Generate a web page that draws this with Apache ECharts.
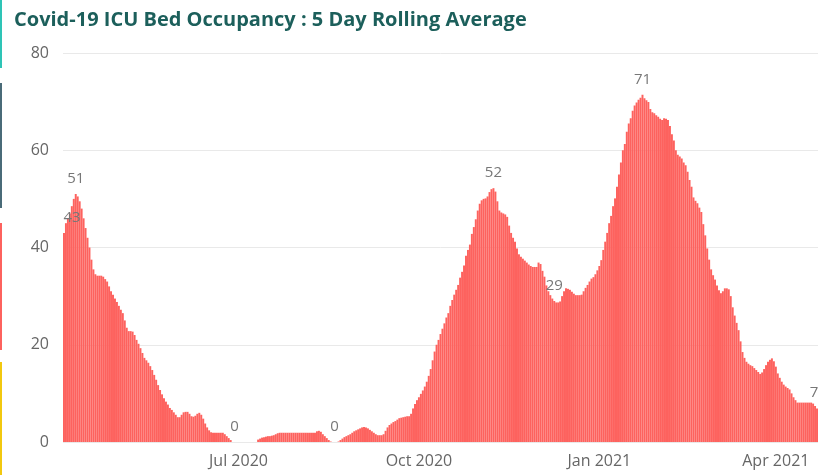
<!DOCTYPE html>
<html>
<head>
<meta charset="utf-8">
<script src="https://cdn.jsdelivr.net/npm/echarts@6/dist/echarts.min.js"></script>
<style>
  html, body { margin: 0; padding: 0; background: #fff; }
  #chart { width: 837px; height: 475px; }
</style>
</head>
<body>
<div id="chart"></div>
<script>
// Daily ICU bed occupancy, 5-day rolling average, starting 3 Apr 2020
const startDate = '2020-04-03';

const wave1 = [
  43, 45, 46, 47, 48.5, 50, 51, 50.5, 49.5, 48,
  46, 44, 42, 40, 37.5, 35.5, 34.5, 34.2, 34.2, 34.2,
  34, 33.5, 33, 32, 31, 30.3, 29.5, 28.8, 28, 27.2,
  26.5, 25, 23.5, 22.8, 22.8, 22.7, 22, 21, 20.2, 19.3,
  18.3, 17.3, 16.8, 16.3, 15.6, 14.8, 13.8, 12.8, 11.7, 10.7,
  9.8, 9, 8.3, 7.7, 7, 6.6, 6.1, 5.6, 5.1, 5.1,
  5.6, 6.1, 6.2, 6.2, 5.8, 5.3, 5.2, 5.4, 5.8, 6,
  5.6, 4.8, 3.8, 3, 2.4, 2, 1.9, 1.9, 1.9, 1.9,
  1.9, 1.9, 1.6, 1.2, 0.8, 0.4
];

const summer = [
  0, 0, 0, 0, 0, 0, 0, 0, 0, 0, 0, 0, 0,
  0.5, 0.7, 0.9, 1.0, 1.1, 1.2, 1.2, 1.3, 1.4, 1.6, 1.8,
  1.9, 1.9, 1.9, 1.9, 1.9, 1.9, 1.9, 1.9, 1.9, 1.9,
  1.9, 1.9, 1.9, 1.9, 1.9, 1.9, 1.9, 1.9, 1.9,
  2.2, 2.3, 2.1, 1.6, 1.2, 0.8, 0.4, 0.1, 0, 0,
  0, 0.1, 0.4, 0.7, 1, 1.2, 1.4, 1.6, 1.9, 2.2,
  2.4, 2.6, 2.8, 3, 3.1, 3, 2.8, 2.5, 2.2, 1.9,
  1.6, 1.4, 1.4, 1.4, 1.6, 2.3, 3, 3.5, 3.8, 4.1,
  4.3, 4.6, 4.9, 5, 5.1, 5.2, 5.3, 5.3, 5.8
];

const wave2 = [
  6.9, 7.8, 8.6, 9.2, 9.9, 10.6, 11.4, 12.4, 13.6, 15,
  16.8, 18.6, 20, 21, 22.2, 23.3, 24.4, 25.6, 26.5, 28,
  29.2, 30.3, 31.3, 32.3, 33.8, 35, 36.3, 38.3, 39.5, 40.6,
  42.8, 44.2, 45.8, 47.6, 49, 49.7, 50, 50.1, 50.5, 51.4,
  52, 52.2, 51.5, 49.5, 47.6, 47.2, 47, 46.8, 46.3, 44.5,
  43, 42, 41.2, 39.8, 38.6, 38.1, 37.7, 37.3, 36.9, 36.5,
  36.2, 36, 36, 36, 36.9, 36.6, 35.2, 34, 32.2, 31,
  30.2, 29.5, 29, 28.7, 28.7, 28.9, 30, 31, 31.6, 31.5,
  31.3, 30.9, 30.5, 30.2, 30.2, 30.2, 30.3, 31, 31.7, 32.3,
  33, 33.6, 33.9, 34.5, 35.3, 36.2
];

const wave3 = [
  37.4, 39.5, 41.2, 43, 45, 46.5, 48.5, 50.1, 52.5, 55,
  57.5, 60, 61.3, 63.8, 65.5, 66.6, 68.1, 69.2, 69.8, 70.4,
  70.8, 71.4, 70.7, 70.3, 69.9, 68.5, 67.8, 67.6, 67.2, 66.9,
  66.5, 66.2, 66.6, 66.5, 66.2, 65, 63.3, 62, 60, 59.1,
  58.7, 58.3, 57.5, 56.9, 55.6, 53.9, 52.5, 50.3, 49.6, 49.1,
  48.2, 47.3, 44.8, 42.5, 39.8, 37.5, 35.5, 34.3, 33.4, 32.2,
  31.2, 30.6, 31, 31.6, 31.6, 31.4, 30, 27.7, 26, 24.5,
  23, 20.7, 18.5, 17.3, 16.5, 16.1, 15.8, 15.6, 15.2, 14.8,
  14.4, 14, 14.3, 15, 15.8, 16.5, 16.9, 17.2, 16.6, 15.5,
  14.1, 13.2, 12.4, 11.8, 11.4, 11.1, 10.8, 10, 9.2, 8.6,
  8.1, 8.1, 8.1, 8.1, 8.1, 8.1, 8.1, 8.1, 7.9, 7.4,
  6.9
];

const occupancy = [].concat(wave1, summer, wave2, wave3);

// Days whose value is printed above the bar
const labelledDays = [0, 6, 87, 138, 219, 250, 295, 384];

// Axis text
const yTicks = [0, 20, 40, 60, 80];
const xTickMonths = ['2020-07-01', '2020-10-01', '2021-01-01', '2021-04-01'];
const monthNames = ['Jan','Feb','Mar','Apr','May','Jun','Jul','Aug','Sep','Oct','Nov','Dec'];

// Category labels: one ISO date per day
const dates = [];
(function () {
  const d0 = new Date(startDate + 'T00:00:00Z');
  for (let i = 0; i < occupancy.length; i++) {
    const d = new Date(d0.getTime() + i * 86400000);
    dates.push(d.toISOString().slice(0, 10));
  }
})();

const barData = occupancy.map(function (v, i) {
  if (labelledDays.indexOf(i) >= 0) {
    return {
      value: v,
      label: {
        show: true,
        position: 'top',
        distance: 8,
        offset: i === 0 ? [8, 0] : (i === occupancy.length - 1 ? [-3, 0] : [0, 0])
      }
    };
  }
  return v;
});

const FONT = '"Segoe UI", "Open Sans", "Noto Sans", sans-serif';

const chart = echarts.init(document.getElementById('chart'), null, { renderer: 'canvas' });
chart.setOption({
  animation: false,
  backgroundColor: '#ffffff',
  title: {
    text: 'Covid-19 ICU Bed Occupancy : 5 Day Rolling Average',
    left: 9,
    top: 5,
    textStyle: {
      fontFamily: FONT,
      fontSize: 20,
      fontWeight: 'bold',
      color: '#1c5f5b'
    }
  },
  graphic: [
    { type: 'rect', shape: { x: 0, y: 0, width: 2, height: 68 }, style: { fill: '#2ec4b6' } },
    { type: 'rect', shape: { x: 0, y: 83, width: 2, height: 125 }, style: { fill: '#4a6b78' } },
    { type: 'rect', shape: { x: 0, y: 223, width: 2, height: 127 }, style: { fill: '#fd625e' } },
    { type: 'rect', shape: { x: 0, y: 362, width: 2, height: 113 }, style: { fill: '#f2c80f' } }
  ],
  grid: { left: 63, right: 19, top: 53, bottom: 33, containLabel: false },
  xAxis: {
    type: 'category',
    data: dates,
    boundaryGap: true,
    axisLine: { show: false },
    axisTick: { show: false },
    splitLine: { show: false },
    axisLabel: {
      interval: function (index, value) { return xTickMonths.indexOf(value) >= 0; },
      formatter: function (value) {
        const m = parseInt(value.slice(5, 7), 10) - 1;
        return monthNames[m] + ' ' + value.slice(0, 4);
      },
      color: '#666666',
      fontFamily: FONT,
      fontSize: 16,
      margin: 11
    }
  },
  yAxis: {
    type: 'value',
    min: yTicks[0],
    max: yTicks[yTicks.length - 1],
    interval: 20,
    axisLine: { show: false },
    axisTick: { show: false },
    axisLabel: {
      color: '#666666',
      fontFamily: FONT,
      fontSize: 16,
      margin: 14
    },
    splitLine: { lineStyle: { color: '#e9e9e9', width: 1 } }
  },
  series: [{
    type: 'bar',
    data: barData,
    barCategoryGap: '0%',
    itemStyle: { color: '#fd625e' },
    label: {
      show: false,
      color: '#777777',
      fontFamily: FONT,
      fontSize: 15,
      formatter: function (p) { return Math.round(p.value); }
    }
  }]
});
</script>
</body>
</html>
